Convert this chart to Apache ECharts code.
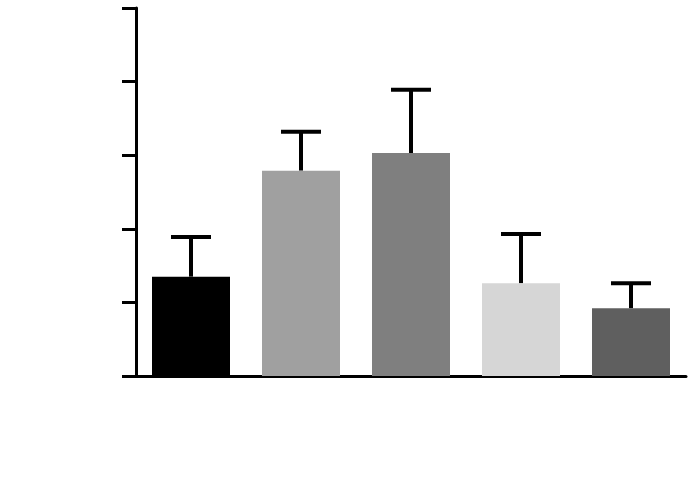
<!DOCTYPE html>
<html>
<head>
<meta charset="utf-8">
<script src="https://cdn.jsdelivr.net/npm/echarts@6/dist/echarts.min.js"></script>
<style>html,body{margin:0;padding:0;background:#fff}#c{width:700px;height:485px}</style>
</head>
<body>
<div id="c"></div>
<script>
var categories = ['A', 'B', 'C', 'D', 'E'];
var means = [1.35, 2.79, 3.03, 1.26, 0.92];
var errTops = [1.89, 3.32, 3.89, 1.93, 1.26];
var barColors = ['#000000', '#a0a0a0', '#7f7f7f', '#d6d6d6', '#5f5f5f'];
var yTicks = [0, 1, 2, 3, 4, 5];

var chart = echarts.init(document.getElementById('c'));
chart.setOption({
  animation: false,
  grid: { left: 136, right: 14, top: 8, bottom: 109 },
  xAxis: {
    type: 'category',
    data: categories,
    axisLine: { lineStyle: { color: '#000', width: 3 } },
    axisTick: { alignWithLabel: true, length: 11, lineStyle: { color: '#000', width: 3 } },
    axisLabel: { show: false }
  },
  yAxis: {
    type: 'value',
    min: yTicks[0],
    max: yTicks[yTicks.length - 1],
    interval: 1,
    axisLine: { show: true, lineStyle: { color: '#000', width: 3 } },
    axisTick: { show: true, length: 14, lineStyle: { color: '#000', width: 3 } },
    axisLabel: { show: false },
    splitLine: { show: false }
  },
  series: [
    {
      type: 'bar',
      barWidth: 78,
      data: means.map(function (v, i) {
        return { value: v, itemStyle: { color: barColors[i] } };
      }),
      z: 2
    },
    {
      type: 'custom',
      z: 1,
      data: means.map(function (v, i) { return [i, v, errTops[i]]; }),
      renderItem: function (params, api) {
        var low = api.coord([api.value(0), api.value(1)]);
        var high = api.coord([api.value(0), api.value(2)]);
        var hw = 20;
        var style = { stroke: '#000', lineWidth: 4 };
        return {
          type: 'group',
          children: [
            { type: 'line', shape: { x1: low[0], y1: low[1], x2: high[0], y2: high[1] }, style: style },
            { type: 'line', shape: { x1: high[0] - hw, y1: high[1], x2: high[0] + hw, y2: high[1] }, style: style }
          ]
        };
      }
    }
  ]
});
</script>
</body>
</html>
